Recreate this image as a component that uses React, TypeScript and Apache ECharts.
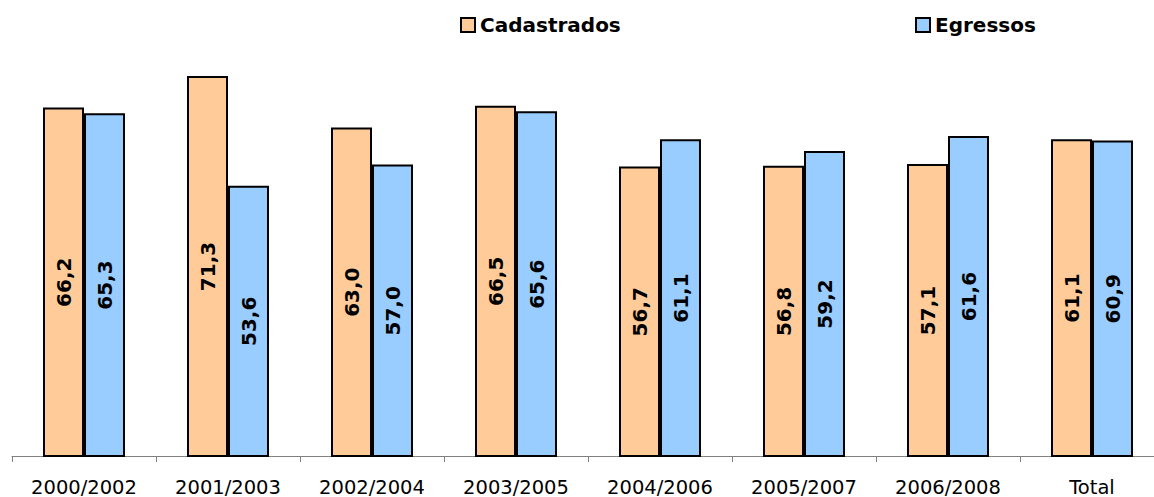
import React, { useEffect, useRef } from "react";
import * as echarts from "echarts";

const categories = ["2000/2002", "2001/2003", "2002/2004", "2003/2005", "2004/2006", "2005/2007", "2006/2008", "Total"];
const cadastrados = [66.2, 71.3, 63.0, 66.5, 56.7, 56.8, 57.1, 61.1];
const egressos = [65.3, 53.6, 57.0, 65.6, 61.1, 59.2, 61.6, 60.9];

const fmt = (p: any) => Number(p.value).toFixed(1).replace(".", ",");

export default function App() {
  const ref = useRef<HTMLDivElement>(null);
  useEffect(() => {
    if (!ref.current) return;
    const chart = echarts.init(ref.current, null, { renderer: "svg" });
    const labelStyle = {
      show: true,
      position: "inside" as const,
      rotate: 90,
      color: "#000",
      fontFamily: "DejaVu Sans",
      fontWeight: "bold" as const,
      fontSize: 20,
      formatter: fmt,
    };
    const legendText = { fontFamily: "DejaVu Sans", fontWeight: "bold", fontSize: 20, color: "#000" };
    chart.setOption({
      animation: false,
      backgroundColor: "#fff",
      legend: [
        {
          data: ["Cadastrados"],
          left: 460,
          top: 15,
          padding: 0,
          itemWidth: 14,
          itemHeight: 14,
          icon: "rect",
          textStyle: legendText,
        },
        {
          data: ["Egressos"],
          left: 915,
          top: 15,
          padding: 0,
          itemWidth: 14,
          itemHeight: 14,
          icon: "rect",
          textStyle: legendText,
        },
      ],
      grid: { left: 12, top: 22, width: 1152, height: 434 },
      xAxis: {
        type: "category",
        data: categories,
        axisLine: { show: true, lineStyle: { color: "#808080", width: 1 } },
        axisTick: { show: true, length: 6, lineStyle: { color: "#808080" } },
        axisLabel: { color: "#000", fontFamily: "DejaVu Sans", fontSize: 19.5, lineHeight: 18, margin: 22, interval: 0 },
      },
      yAxis: {
        type: "value",
        min: 10,
        max: 80,
        show: false,
        splitLine: { show: false },
      },
      series: [
        {
          name: "Cadastrados",
          type: "bar",
          data: cadastrados,
          barWidth: 41,
          barGap: "0%",
          itemStyle: { color: "#FFCC99", borderColor: "#000", borderWidth: 2 },
          label: labelStyle,
        },
        {
          name: "Egressos",
          type: "bar",
          data: egressos,
          barWidth: 41,
          barGap: "0%",
          itemStyle: { color: "#99CCFF", borderColor: "#000", borderWidth: 2 },
          label: labelStyle,
        },
      ],
    });
    return () => chart.dispose();
  }, []);
  return <div ref={ref} style={{ position: "fixed", left: 0, top: 0, width: 1166, height: 497 }} />;
}
